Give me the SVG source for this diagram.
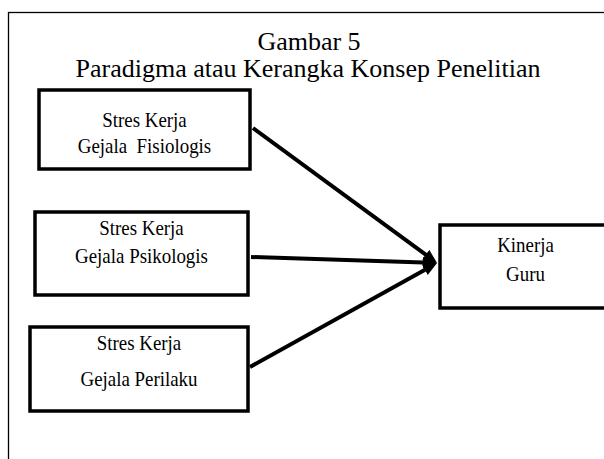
<svg xmlns="http://www.w3.org/2000/svg" width="604" height="459" viewBox="0 0 604 459">
<style>
.frame{fill:none;stroke:#000;stroke-width:1.3}
.box{fill:#fff;stroke:#000;stroke-width:3.5}
.t{font-family:"Liberation Serif","Times New Roman",serif;fill:#000;text-anchor:middle}
.title{font-size:26px}
.lbl{font-size:22px}
.conn{stroke:#000;stroke-width:4;fill:none;marker-end:url(#ah)}
</style>
<defs>
<marker id="ah" markerUnits="userSpaceOnUse" markerWidth="16" markerHeight="14" refX="8" refY="6" orient="auto">
<path d="M0,0 L14,6 L0,12 z" fill="#000"/>
</marker>
</defs>
<rect width="604" height="459" fill="#fff"/>
<rect class="frame" x="8.5" y="12.5" width="620" height="470"/>
<g id="title">
<text class="t title" x="309" y="50">Gambar 5</text>
<text class="t title" x="308" y="77">Paradigma atau Kerangka Konsep Penelitian</text>
</g>
<g id="connectors">
<line class="conn" x1="253" y1="128" x2="432.2" y2="259.4"/>
<line class="conn" x1="251" y1="257" x2="431" y2="262.8"/>
<line class="conn" x1="250" y1="367" x2="431.8" y2="265.9"/>
</g>
<g id="fisiologis">
<rect class="box" x="39" y="90" width="211" height="79"/>
<g transform="translate(144.5,0) scale(0.86,1)">
<text class="t lbl" x="0" y="127">Stres Kerja</text>
<text class="t lbl" x="0" y="153" xml:space="preserve">Gejala  Fisiologis</text>
</g>
</g>
<g id="psikologis">
<rect class="box" x="35" y="212" width="213" height="83"/>
<g transform="translate(141.5,0) scale(0.86,1)">
<text class="t lbl" x="0" y="235">Stres Kerja</text>
<text class="t lbl" x="0" y="263">Gejala Psikologis</text>
</g>
</g>
<g id="perilaku">
<rect class="box" x="30" y="327" width="218" height="84"/>
<g transform="translate(139,0) scale(0.86,1)">
<text class="t lbl" x="0" y="350">Stres Kerja</text>
<text class="t lbl" x="0" y="386">Gejala Perilaku</text>
</g>
</g>
<g id="kinerja">
<rect class="box" x="440" y="225" width="180" height="83"/>
<g transform="translate(525.5,0) scale(0.86,1)">
<text class="t lbl" x="0" y="252">Kinerja</text>
<text class="t lbl" x="0" y="281">Guru</text>
</g>
</g>
</svg>
